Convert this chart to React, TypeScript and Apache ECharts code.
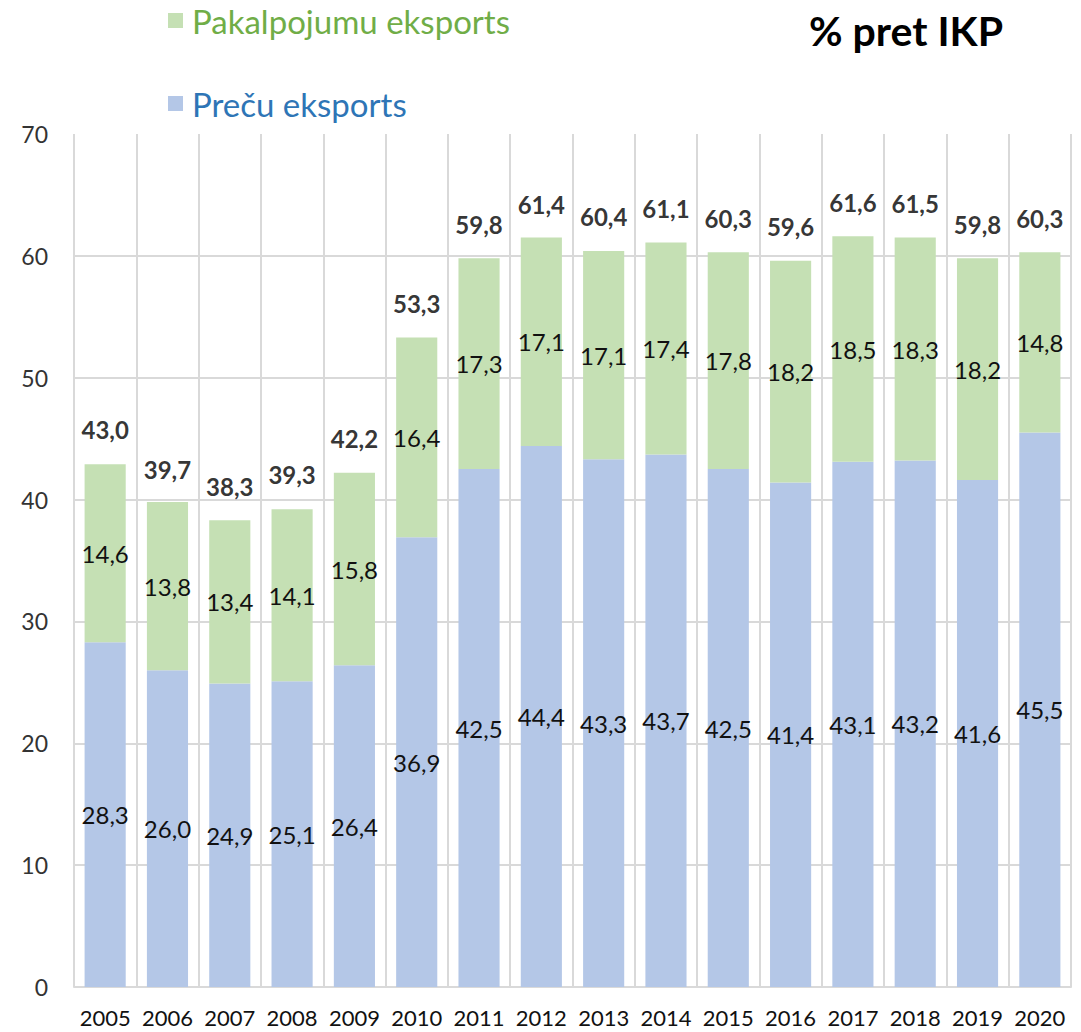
import React, { useEffect, useRef } from "react";
import * as echarts from "echarts";

const years = ["2005","2006","2007","2008","2009","2010","2011","2012","2013","2014","2015","2016","2017","2018","2019","2020"];
const goods = [28.3, 26.0, 24.9, 25.1, 26.4, 36.9, 42.5, 44.4, 43.3, 43.7, 42.5, 41.4, 43.1, 43.2, 41.6, 45.5];
const services = [14.6, 13.8, 13.4, 14.1, 15.8, 16.4, 17.3, 17.1, 17.1, 17.4, 17.8, 18.2, 18.5, 18.3, 18.2, 14.8];
const totals = [43.0, 39.7, 38.3, 39.3, 42.2, 53.3, 59.8, 61.4, 60.4, 61.1, 60.3, 59.6, 61.6, 61.5, 59.8, 60.3];

const FONT = "Lato, 'Open Sans', sans-serif";
const fmt = (v: number) => v.toFixed(1).replace(".", ",");

export default function App() {
  const ref = useRef<HTMLDivElement>(null);
  useEffect(() => {
    const chart = echarts.init(ref.current!, null, { renderer: "svg" });
    const gridColors = ["#d9d9d9","#d9d9d9","#d9d9d9","#d9d9d9","#d9d9d9","#d9d9d9","#d9d9d9","transparent"];
    chart.setOption({
      animation: false,
      textStyle: { fontFamily: FONT },
      title: {
        text: "% pret IKP",
        left: 804,
        top: 5,
        textStyle: { fontSize: 41, fontWeight: "bold", color: "#000", fontFamily: FONT },
      },
      legend: {
        orient: "vertical",
        left: 168,
        top: 4,
        padding: 0,
        itemGap: 50,
        itemWidth: 15,
        itemHeight: 15,
        icon: "rect",
        data: [
          { name: "Pakalpojumu eksports", textStyle: { color: "#70AD47" } },
          { name: "Preču eksports", textStyle: { color: "#2E75B6" } },
        ],
        textStyle: { fontSize: 33, fontFamily: FONT, padding: [0, 0, 0, 4] },
      },
      grid: { left: 74, right: 10, top: 134, bottom: 45, containLabel: false },
      xAxis: {
        type: "category",
        data: years,
        axisLine: { show: true, lineStyle: { color: "#d9d9d9", width: 2 } },
        axisTick: { show: false },
        axisLabel: { interval: 0, fontSize: 22, color: "#111", margin: 19, fontFamily: FONT },
        splitLine: { show: true, interval: 0, lineStyle: { color: "#d9d9d9", width: 2 } },
      },
      yAxis: {
        type: "value",
        min: 0,
        max: 70,
        interval: 10,
        axisLine: { show: false },
        axisTick: { show: false },
        axisLabel: { fontSize: 23, color: "#333", margin: 26, fontFamily: FONT },
        splitLine: { show: true, lineStyle: { color: gridColors, width: 2 } },
      },
      series: [
        {
          name: "Preču eksports",
          type: "bar",
          stack: "total",
          data: goods,
          barWidth: "66%",
          itemStyle: { color: "#B4C7E7" },
          label: {
            show: true,
            position: "inside",
            fontSize: 24,
            color: "#111",
            fontFamily: FONT,
            formatter: (p: any) => fmt(p.value),
          },
        },
        {
          name: "Pakalpojumu eksports",
          type: "bar",
          stack: "total",
          data: services,
          barWidth: "66%",
          itemStyle: { color: "#C5E0B4" },
          label: {
            show: true,
            position: "inside",
            fontSize: 24,
            color: "#111",
            fontFamily: FONT,
            formatter: (p: any) => fmt(p.value),
          },
        },
        {
          name: "Kopā",
          type: "scatter",
          data: totals,
          symbolSize: 0,
          silent: true,
          label: {
            show: true,
            position: "top",
            distance: 22,
            fontSize: 24,
            fontWeight: "bold",
            color: "#000",
            fontFamily: FONT,
            formatter: (p: any) => fmt(p.value),
          },
        },
      ],
    });
    return () => chart.dispose();
  }, []);
  return (
    <div
      ref={ref}
      style={{ position: "fixed", left: 0, top: 0, width: 1081, height: 1032, background: "#fff" }}
    />
  );
}
